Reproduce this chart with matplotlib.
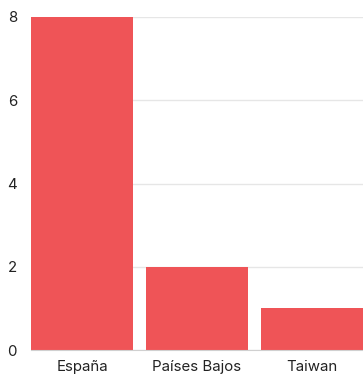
import matplotlib.pyplot as plt

# data
countries = ['España', 'Países Bajos', 'Taiwan']
counts = [8, 2, 1]
yticks = [0, 2, 4, 6, 8]

plt.rcParams['font.family'] = ['Inter', 'DejaVu Sans']

W, H = 363, 375
fig = plt.figure(figsize=(W / 100, H / 100), dpi=100)
ax = fig.add_axes([31 / W, 25 / H, (W - 31) / W, 333 / H])

pos = range(len(countries))
ax.bar(pos, counts, width=0.887, color='#ef5457', zorder=2)

ax.set_xlim(-0.4435, 2.4435)
ax.set_ylim(0, 8)
ax.set_yticks(yticks)
ax.set_xticks(list(pos))
ax.set_xticklabels(countries)
ax.grid(axis='y', color='#e6e6e6', linewidth=1, zorder=0)
for s in ['top', 'right', 'left']:
    ax.spines[s].set_visible(False)
ax.spines['bottom'].set_color('#d0d0d0')
ax.tick_params(length=0, labelsize=10.8, colors='#222222')
ax.tick_params(axis='y', pad=10)
ax.tick_params(axis='x', pad=7)

fig.savefig('out.png', dpi=100)
